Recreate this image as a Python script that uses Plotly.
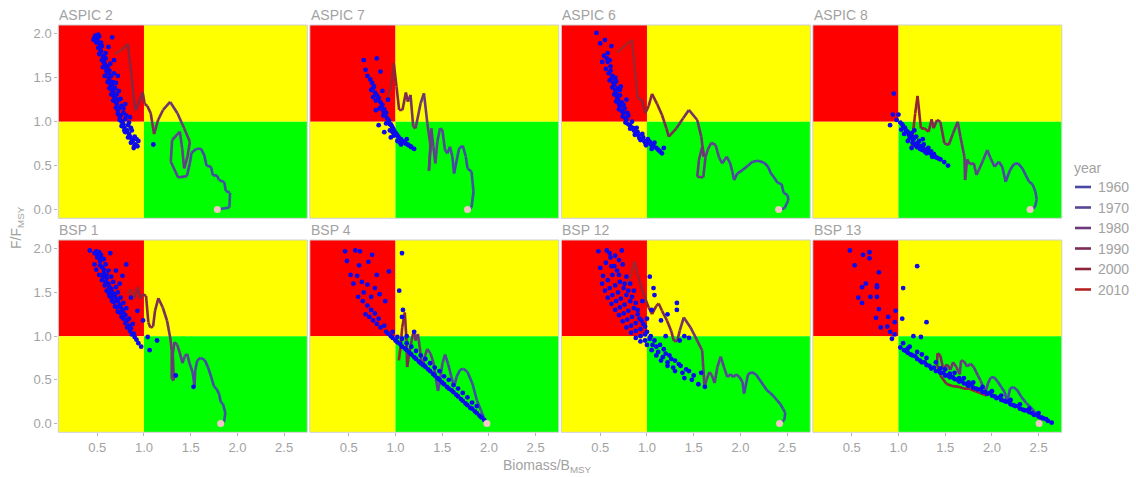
import plotly.graph_objects as go

# ---------------------------------------------------------------- data
PANELS = ["ASPIC 2", "ASPIC 7", "ASPIC 6", "ASPIC 8", "BSP 1", "BSP 4", "BSP 12", "BSP 13"]
X_TICKS = [0.5, 1.0, 1.5, 2.0, 2.5]
X_TICK_TEXT = ["0.5", "1.0", "1.5", "2.0", "2.5"]
Y_TICKS = [0.0, 0.5, 1.0, 1.5, 2.0]
Y_TICK_TEXT = ["0.0", "0.5", "1.0", "1.5", "2.0"]
LEGEND_YEARS = [1960, 1970, 1980, 1990, 2000, 2010]

# historical trajectories (B/Bmsy, F/Fmsy) with the year of each vertex
aspic2_year = [1950, 1951, 1952, 1953, 1954, 1955, 1956, 1957, 1958, 1959, 1960, 1962, 1963, 1965,
               1966, 1968, 1969, 1971, 1972, 1974, 1975, 1977, 1978, 1980, 1981, 1983, 1984, 1986,
               1987, 1989, 1990, 1992, 1993, 1995, 1996, 1998, 2000, 2003, 2007, 2011]
aspic2_path = [(1.785, 0.0), (1.914, 0.023), (1.921, 0.19), (1.875, 0.213), (1.86, 0.312), (1.803, 0.335),
               (1.781, 0.388), (1.738, 0.388), (1.717, 0.487), (1.67, 0.498), (1.645, 0.62), (1.609, 0.692),
               (1.563, 0.692), (1.509, 0.646), (1.491, 0.525), (1.459, 0.38), (1.366, 0.365), (1.287, 0.544),
               (1.301, 0.791), (1.384, 0.886), (1.409, 0.696), (1.43, 0.468), (1.466, 0.601), (1.491, 0.772),
               (1.43, 0.924), (1.358, 1.095), (1.28, 1.224), (1.204, 1.133), (1.151, 1.019), (1.108, 0.859),
               (1.072, 1.095), (1.036, 1.179), (1.007, 1.202), (0.986, 1.338), (0.943, 1.209), (0.907, 1.125),
               (0.871, 1.475), (0.828, 1.886), (0.763, 1.817), (0.685, 1.772)]

aspic7_year = [1950, 1951, 1952, 1953, 1954, 1955, 1956, 1958, 1959, 1961, 1962, 1964, 1965, 1967,
               1968, 1970, 1971, 1973, 1974, 1976, 1977, 1979, 1980, 1982, 1983, 1985, 1986, 1988,
               1990, 1992, 1994, 1996, 1999, 2002, 2006, 2011]
aspic7_path = [(1.771, 0.0), (1.814, 0.023), (1.835, 0.202), (1.814, 0.43), (1.771, 0.468), (1.753, 0.601),
               (1.72, 0.726), (1.681, 0.696), (1.656, 0.563), (1.627, 0.411), (1.609, 0.601), (1.584, 0.715),
               (1.556, 0.639), (1.53, 0.677), (1.502, 0.905), (1.477, 0.924), (1.448, 0.772), (1.427, 0.525),
               (1.405, 0.715), (1.384, 0.924), (1.358, 0.441), (1.376, 0.715), (1.341, 0.981), (1.305, 1.323),
               (1.269, 1.209), (1.215, 0.924), (1.19, 0.943), (1.161, 1.304), (1.133, 1.228), (1.111, 1.331),
               (1.075, 1.133), (1.039, 1.133), (1.011, 1.399), (0.982, 1.665), (0.953, 1.399), (0.918, 1.285)]

aspic6_year = [1950, 1951, 1952, 1953, 1954, 1955, 1956, 1957, 1958, 1959, 1960, 1961, 1962, 1963,
               1964, 1965, 1966, 1967, 1968, 1969, 1970, 1971, 1972, 1974, 1975, 1976, 1978, 1979,
               1980, 1982, 1983, 1984, 1986, 1987, 1988, 1990, 1991, 1992, 1994, 1995, 1996, 1998,
               2000, 2002, 2005, 2008, 2011]
aspic6_path = [(2.409, 0.0), (2.47, 0.011), (2.513, 0.106), (2.505, 0.163), (2.462, 0.19), (2.441, 0.289),
               (2.398, 0.304), (2.355, 0.373), (2.326, 0.411), (2.297, 0.487), (2.254, 0.532), (2.19, 0.555),
               (2.129, 0.544), (2.075, 0.494), (2.022, 0.449), (1.968, 0.411), (1.932, 0.335), (1.914, 0.43),
               (1.889, 0.532), (1.853, 0.601), (1.806, 0.525), (1.771, 0.593), (1.735, 0.734), (1.688, 0.76),
               (1.652, 0.684), (1.627, 0.601), (1.602, 0.365), (1.538, 0.373), (1.556, 0.563), (1.591, 0.715),
               (1.609, 0.601), (1.581, 0.829), (1.538, 1.019), (1.448, 1.133), (1.387, 1.038), (1.315, 0.924),
               (1.233, 0.829), (1.208, 0.924), (1.161, 1.076), (1.108, 1.202), (1.054, 1.316), (1.018, 1.179),
               (0.982, 1.095), (0.946, 1.247), (0.9, 1.266), (0.839, 1.932), (0.677, 1.787)]

aspic8_year = [1950, 1951, 1952, 1953, 1954, 1955, 1956, 1957, 1958, 1959, 1960, 1962, 1963, 1965,
               1966, 1968, 1969, 1971, 1972, 1974, 1975, 1977, 1978, 1980, 1981, 1983, 1984, 1986,
               1987, 1989, 1990, 1992, 1993, 1995, 1996, 1998, 2000, 2002, 2005, 2008, 2011]
aspic8_path = [(2.409, 0.0), (2.459, 0.023), (2.48, 0.114), (2.466, 0.202), (2.434, 0.289), (2.398, 0.316),
               (2.362, 0.392), (2.326, 0.468), (2.28, 0.525), (2.237, 0.517), (2.194, 0.449), (2.147, 0.316),
               (2.111, 0.487), (2.075, 0.544), (2.029, 0.487), (1.986, 0.582), (1.95, 0.677), (1.907, 0.563),
               (1.86, 0.449), (1.835, 0.392), (1.806, 0.525), (1.763, 0.517), (1.735, 0.57), (1.713, 0.335),
               (1.706, 0.601), (1.663, 0.829), (1.634, 1.0), (1.584, 0.867), (1.538, 0.734), (1.491, 0.753),
               (1.448, 1.0), (1.412, 1.019), (1.376, 0.924), (1.355, 1.027), (1.323, 0.886), (1.276, 0.924),
               (1.24, 0.924), (1.204, 1.293), (1.179, 1.095), (1.154, 0.867), (1.143, 0.677)]

bsp1_year = [1950, 1951, 1952, 1953, 1954, 1955, 1956, 1957, 1958, 1959, 1960, 1961, 1963, 1964,
             1966, 1967, 1969, 1970, 1972, 1973, 1975, 1976, 1978, 1979, 1981, 1982, 1984, 1985,
             1987, 1988, 1990, 1991, 1993, 1994, 1996, 1997, 1999, 2001, 2003, 2005, 2008, 2011]
bsp1_path = [(1.821, 0.0), (1.857, 0.017), (1.871, 0.123), (1.846, 0.222), (1.821, 0.248), (1.803, 0.343),
             (1.774, 0.4), (1.749, 0.426), (1.72, 0.532), (1.685, 0.646), (1.649, 0.729), (1.606, 0.752),
             (1.57, 0.722), (1.548, 0.608), (1.541, 0.43), (1.52, 0.589), (1.487, 0.691), (1.462, 0.797),
             (1.434, 0.767), (1.412, 0.691), (1.384, 0.805), (1.355, 0.903), (1.326, 0.93), (1.308, 0.797),
             (1.319, 0.494), (1.297, 0.513), (1.297, 0.835), (1.283, 0.968), (1.247, 1.176), (1.201, 1.328),
             (1.154, 1.434), (1.118, 1.29), (1.097, 1.108), (1.068, 1.1), (1.047, 1.157), (1.022, 1.46),
             (0.986, 1.479), (0.961, 1.422), (0.932, 1.563), (0.896, 1.434), (0.86, 1.536), (0.824, 1.479)]

bsp4_year = [1950, 1951, 1952, 1953, 1955, 1956, 1958, 1959, 1961, 1962, 1964, 1965, 1967, 1968,
             1970, 1971, 1973, 1974, 1976, 1977, 1979, 1980, 1982, 1983, 1985, 1987, 1989, 1991,
             1993, 1995, 1998, 2002, 2006, 2011]
bsp4_path = [(1.978, 0.0), (1.957, 0.04), (1.914, 0.153), (1.871, 0.267), (1.824, 0.456), (1.771, 0.589),
             (1.728, 0.627), (1.692, 0.616), (1.656, 0.54), (1.627, 0.419), (1.599, 0.532), (1.563, 0.684),
             (1.53, 0.79), (1.502, 0.684), (1.477, 0.494), (1.455, 0.373), (1.43, 0.532), (1.405, 0.703),
             (1.376, 0.797), (1.341, 0.854), (1.312, 0.759), (1.287, 0.646), (1.269, 0.797), (1.24, 1.025),
             (1.215, 0.949), (1.197, 1.063), (1.172, 0.949), (1.147, 0.797), (1.125, 0.646), (1.118, 0.949),
             (1.1, 1.271), (1.072, 1.1), (1.054, 0.873), (1.036, 0.722)]

bsp12_year = [1950, 1951, 1952, 1953, 1954, 1955, 1956, 1957, 1958, 1959, 1960, 1961, 1962, 1963,
              1964, 1965, 1966, 1967, 1968, 1969, 1970, 1971, 1972, 1973, 1974, 1975, 1977, 1978,
              1979, 1981, 1982, 1983, 1985, 1986, 1987, 1989, 1990, 1991, 1993, 1994, 1995, 1997,
              1999, 2001, 2003, 2005, 2007, 2009, 2011]
bsp12_path = [(2.419, 0.0), (2.47, 0.04), (2.48, 0.123), (2.455, 0.172), (2.427, 0.222), (2.391, 0.267),
              (2.355, 0.313), (2.319, 0.35), (2.283, 0.381), (2.254, 0.426), (2.211, 0.494), (2.165, 0.563),
              (2.122, 0.589), (2.082, 0.563), (2.039, 0.343), (2.022, 0.475), (1.989, 0.532), (1.953, 0.563),
              (1.925, 0.532), (1.896, 0.563), (1.86, 0.532), (1.824, 0.645), (1.789, 0.767), (1.753, 0.645),
              (1.724, 0.464), (1.695, 0.551), (1.667, 0.589), (1.638, 0.502), (1.616, 0.419), (1.602, 0.645),
              (1.591, 0.835), (1.538, 0.949), (1.466, 1.1), (1.394, 1.214), (1.351, 1.063), (1.323, 0.941),
              (1.287, 0.949), (1.258, 1.063), (1.215, 1.176), (1.161, 1.29), (1.125, 1.373), (1.1, 1.347),
              (1.054, 1.252), (1.018, 1.328), (0.964, 1.479), (0.91, 1.669), (0.864, 1.858), (0.821, 1.669),
              (0.778, 1.593)]

bsp13_year = [1950, 1951, 1952, 1953, 1954, 1955, 1956, 1957, 1958, 1959, 1960, 1961, 1962, 1964,
              1965, 1967, 1968, 1970, 1971, 1973, 1974, 1976, 1977, 1979, 1980, 1982, 1983, 1985,
              1986, 1988, 1989, 1991, 1992, 1994, 1995, 1997, 1999, 2001, 2003, 2005, 2007, 2009, 2011]
bsp13_path = [(2.505, 0.0), (2.53, 0.032), (2.48, 0.108), (2.416, 0.184), (2.366, 0.237), (2.315, 0.305),
              (2.272, 0.381), (2.229, 0.419), (2.194, 0.4), (2.165, 0.248), (2.136, 0.362), (2.1, 0.419),
              (2.065, 0.475), (2.022, 0.532), (1.986, 0.525), (1.957, 0.456), (1.935, 0.373), (1.907, 0.419),
              (1.878, 0.494), (1.849, 0.551), (1.806, 0.646), (1.771, 0.684), (1.735, 0.653), (1.699, 0.714),
              (1.67, 0.722), (1.656, 0.563), (1.62, 0.646), (1.584, 0.703), (1.556, 0.616), (1.52, 0.676),
              (1.477, 0.627), (1.448, 0.778), (1.419, 0.805), (1.412, 0.684), (1.448, 0.551), (1.513, 0.456),
              (1.573, 0.43), (1.645, 0.42), (1.699, 0.40), (1.753, 0.40), (1.824, 0.37), (1.896, 0.34),
              (1.943, 0.32)]

# current-status uncertainty (bootstrap / MCMC draws), (B/Bmsy, F/Fmsy)
aspic2_cloud = [(0.48, 1.98), (0.50, 1.95), (0.52, 1.97), (0.49, 1.90), (0.53, 1.88), (0.51, 1.84), (0.55, 1.86),
                (0.54, 1.80), (0.52, 1.77), (0.57, 1.75), (0.55, 1.70), (0.59, 1.72), (0.58, 1.66), (0.56, 1.62),
                (0.61, 1.63), (0.60, 1.57), (0.63, 1.58), (0.58, 1.52), (0.62, 1.50), (0.65, 1.52), (0.61, 1.45),
                (0.64, 1.43), (0.67, 1.45), (0.63, 1.38), (0.66, 1.36), (0.69, 1.38), (0.65, 1.31), (0.68, 1.29),
                (0.71, 1.31), (0.67, 1.24), (0.70, 1.22), (0.73, 1.25), (0.70, 1.16), (0.73, 1.15), (0.76, 1.18),
                (0.72, 1.09), (0.75, 1.07), (0.78, 1.10), (0.74, 1.02), (0.77, 1.00), (0.80, 1.03), (0.76, 0.95),
                (0.79, 0.93), (0.83, 0.96), (0.80, 0.88), (0.84, 0.86), (0.87, 0.90), (0.83, 0.82), (0.87, 0.80),
                (0.90, 0.83), (0.86, 0.76), (0.91, 0.74), (0.94, 0.78), (0.89, 0.70), (1.10, 0.74), (0.62, 1.85),
                (0.68, 1.70), (0.72, 1.52), (0.80, 1.20), (0.85, 1.05), (0.66, 1.96), (0.46, 1.93),
                (0.50, 1.92), (0.53, 1.83), (0.56, 1.74), (0.57, 1.68), (0.60, 1.60), (0.62, 1.55), (0.63, 1.47),
                (0.66, 1.41), (0.67, 1.34), (0.69, 1.27), (0.71, 1.20), (0.72, 1.13), (0.74, 1.06), (0.76, 1.00),
                (0.78, 0.97), (0.79, 0.90), (0.82, 0.90), (0.85, 0.83), (0.88, 0.78), (0.90, 0.73), (0.93, 0.72),
                (0.54, 1.90), (0.59, 1.78), (0.64, 1.66), (0.68, 1.55), (0.70, 1.44), (0.73, 1.35), (0.75, 1.26),
                (0.78, 1.15), (0.81, 1.07), (0.84, 0.99), (0.86, 0.93), (0.92, 0.80), (0.51, 1.99), (0.47, 1.96)]

aspic7_cloud = [(0.66, 1.70), (0.80, 1.72), (0.68, 1.59), (0.73, 1.48), (0.84, 1.57), (0.75, 1.44), (0.77, 1.40),
                (0.74, 1.36), (0.78, 1.33), (0.80, 1.30), (0.82, 1.27), (0.79, 1.24), (0.84, 1.22), (0.86, 1.19),
                (0.83, 1.15), (0.88, 1.14), (0.90, 1.10), (0.87, 1.07), (0.91, 1.04), (0.93, 1.01), (0.90, 0.98),
                (0.95, 0.97), (0.97, 0.93), (0.94, 0.90), (0.99, 0.89), (1.01, 0.86), (0.98, 0.84), (1.03, 0.83),
                (1.06, 0.80), (1.02, 0.78), (1.08, 0.77), (1.11, 0.75), (1.06, 0.74), (1.14, 0.73), (1.17, 0.71),
                (1.20, 0.69), (0.79, 1.13), (0.82, 0.96), (0.88, 0.88), (0.86, 1.35), (0.92, 1.25), (0.70, 1.52),
                (0.95, 0.82), (1.12, 0.80), (0.76, 1.28),
                (0.76, 1.38), (0.79, 1.31), (0.81, 1.25), (0.85, 1.17), (0.87, 1.12), (0.89, 1.08), (0.92, 1.02),
                (0.94, 0.97), (0.96, 0.95), (0.98, 0.91), (1.00, 0.87), (1.02, 0.84), (1.04, 0.81), (1.07, 0.78),
                (1.10, 0.76), (1.13, 0.74), (1.16, 0.72), (0.97, 0.88), (1.05, 0.76)]

aspic6_cloud = [(0.46, 2.01), (0.50, 1.89), (0.55, 1.93), (0.62, 1.86), (0.52, 1.68), (0.57, 1.72), (0.61, 1.63),
                (0.56, 1.60), (0.59, 1.55), (0.63, 1.52), (0.60, 1.47), (0.64, 1.44), (0.67, 1.46), (0.63, 1.39),
                (0.66, 1.36), (0.69, 1.38), (0.65, 1.31), (0.68, 1.28), (0.71, 1.30), (0.67, 1.23), (0.70, 1.20),
                (0.73, 1.22), (0.70, 1.14), (0.73, 1.12), (0.76, 1.15), (0.74, 1.06), (0.77, 1.04), (0.80, 1.07),
                (0.77, 0.99), (0.80, 0.97), (0.84, 1.00), (0.82, 0.92), (0.86, 0.90), (0.89, 0.93), (0.87, 0.85),
                (0.91, 0.84), (0.95, 0.86), (0.93, 0.79), (0.97, 0.78), (1.01, 0.80), (0.99, 0.73), (1.04, 0.74),
                (1.08, 0.76), (1.05, 0.69), (1.10, 0.70), (1.14, 0.66), (1.18, 0.70), (1.16, 0.64), (0.72, 1.40),
                (0.78, 1.25), (0.58, 1.78),
                (0.58, 1.68), (0.61, 1.58), (0.62, 1.49), (0.65, 1.42), (0.67, 1.33), (0.69, 1.25), (0.71, 1.17),
                (0.75, 1.10), (0.78, 1.02), (0.82, 0.96), (0.85, 0.93), (0.88, 0.88), (0.92, 0.81), (0.96, 0.82),
                (1.00, 0.76), (1.03, 0.77), (1.07, 0.72), (1.12, 0.68), (0.54, 1.75), (0.60, 1.70), (0.66, 1.50),
                (0.71, 1.36), (0.75, 1.19), (0.79, 1.10), (0.90, 0.88), (0.98, 0.76)]

aspic8_cloud = [(0.95, 1.32), (0.91, 0.96), (0.94, 1.08), (1.00, 1.08), (0.98, 1.02), (1.02, 0.99), (1.05, 0.95),
                (1.03, 0.91), (1.07, 0.93), (1.09, 0.89), (1.06, 0.86), (1.11, 0.85), (1.14, 0.87), (1.12, 0.81),
                (1.16, 0.80), (1.19, 0.83), (1.15, 0.76), (1.19, 0.75), (1.22, 0.78), (1.20, 0.71), (1.24, 0.72),
                (1.27, 0.74), (1.25, 0.68), (1.29, 0.68), (1.32, 0.70), (1.30, 0.64), (1.34, 0.64), (1.38, 0.63),
                (1.36, 0.60), (1.41, 0.59), (1.45, 0.57), (1.49, 0.54), (1.53, 0.50), (1.10, 0.78), (1.17, 0.90),
                (1.26, 0.80), (1.14, 0.70),
                (1.04, 0.97), (1.08, 0.90), (1.13, 0.84), (1.17, 0.82), (1.21, 0.76), (1.26, 0.71), (1.31, 0.67),
                (1.35, 0.66), (1.39, 0.60), (1.43, 0.58), (1.10, 0.88), (1.18, 0.73), (1.23, 0.69), (1.28, 0.66)]

bsp1_cloud = [(0.42, 1.98), (0.47, 1.95), (0.52, 1.96), (0.54, 1.93), (0.50, 1.90), (0.47, 1.82), (0.53, 1.86),
              (0.57, 1.88), (0.64, 1.95), (0.49, 1.76), (0.55, 1.79), (0.59, 1.82), (0.52, 1.70), (0.57, 1.72),
              (0.62, 1.75), (0.55, 1.64), (0.60, 1.66), (0.65, 1.68), (0.58, 1.58), (0.62, 1.60), (0.67, 1.62),
              (0.60, 1.52), (0.65, 1.54), (0.70, 1.56), (0.63, 1.46), (0.68, 1.48), (0.72, 1.50), (0.66, 1.40),
              (0.71, 1.42), (0.75, 1.44), (0.69, 1.34), (0.74, 1.36), (0.78, 1.38), (0.72, 1.28), (0.77, 1.30),
              (0.81, 1.32), (0.76, 1.22), (0.80, 1.24), (0.84, 1.20), (0.80, 1.15), (0.84, 1.12), (0.88, 1.14),
              (0.85, 1.06), (0.89, 1.03), (0.81, 1.82), (0.77, 1.69), (0.86, 1.44), (0.93, 1.29), (0.99, 1.18),
              (0.90, 0.99), (0.97, 0.88), (1.06, 0.84), (1.04, 0.99), (1.14, 0.95), (1.34, 0.55), (1.53, 0.42),
              (0.94, 0.92), (0.92, 0.96), (0.70, 1.75), (0.74, 1.60),
              (0.50, 1.93), (0.55, 1.89), (0.53, 1.81), (0.57, 1.76), (0.56, 1.68), (0.60, 1.70), (0.59, 1.62),
              (0.63, 1.56), (0.62, 1.50), (0.66, 1.50), (0.65, 1.44), (0.69, 1.45), (0.68, 1.39), (0.72, 1.40),
              (0.71, 1.33), (0.75, 1.33), (0.74, 1.27), (0.78, 1.26), (0.78, 1.20), (0.82, 1.18), (0.82, 1.10),
              (0.86, 1.09), (0.87, 1.02), (0.49, 1.97), (0.52, 1.92)]

bsp4_cloud = [(0.46, 1.97), (0.57, 1.98), (0.62, 1.97), (0.75, 1.93), (0.48, 1.86), (0.61, 1.81), (0.71, 1.85),
              (0.80, 1.70), (0.93, 1.74), (0.52, 1.70), (0.59, 1.69), (0.70, 1.59), (0.78, 1.55), (0.89, 1.40),
              (0.55, 1.60), (0.64, 1.62), (0.66, 1.50), (0.74, 1.45), (0.83, 1.48), (0.60, 1.45),
              (1.04, 1.52), (1.07, 1.95), (1.07, 1.22), (1.12, 1.00), (1.20, 1.05), (1.08, 1.30),
              (0.90, 1.05), (0.95, 1.00), (1.00, 0.95), (1.05, 0.91), (1.10, 0.86), (1.15, 0.81), (1.20, 0.76),
              (1.25, 0.71), (1.30, 0.67), (1.35, 0.62), (1.40, 0.57), (1.45, 0.52), (1.50, 0.47), (1.55, 0.42),
              (1.60, 0.38), (1.65, 0.33), (1.70, 0.28), (1.75, 0.23), (1.80, 0.18), (1.85, 0.14), (1.90, 0.09),
              (1.95, 0.04), (0.92, 1.03), (0.97, 0.98), (1.02, 0.93), (1.07, 0.88), (1.12, 0.84), (1.17, 0.79),
              (1.22, 0.74), (1.27, 0.69), (1.32, 0.65), (1.37, 0.60), (1.42, 0.55), (1.47, 0.50), (1.52, 0.45),
              (1.57, 0.40), (1.62, 0.36), (1.67, 0.31), (1.72, 0.26), (1.77, 0.21), (1.82, 0.17), (1.87, 0.12),
              (1.92, 0.07), (1.02, 0.99), (1.12, 0.92), (1.22, 0.83), (1.32, 0.74), (1.42, 0.64), (1.52, 0.54),
              (1.62, 0.44), (1.72, 0.35), (1.82, 0.24), (0.97, 1.05), (1.07, 0.97), (1.17, 0.88), (1.27, 0.78),
              (1.37, 0.69), (1.47, 0.60), (1.57, 0.50), (1.67, 0.40), (1.77, 0.30), (1.87, 0.20), (0.68, 1.25),
              (0.72, 1.22), (0.76, 1.18), (0.80, 1.14), (0.84, 1.10), (0.74, 1.30), (0.82, 1.20), (0.70, 1.35),
              (0.65, 1.40), (0.78, 1.26), (0.88, 1.12)]

bsp12_cloud = [(0.48, 1.97), (0.57, 1.98), (0.73, 1.98), (0.61, 1.90), (0.50, 1.78), (0.53, 1.69), (0.56, 1.84),
               (0.65, 1.80), (0.70, 1.87), (0.52, 1.60), (0.58, 1.64), (0.63, 1.70), (0.68, 1.75), (0.74, 1.82),
               (0.55, 1.52), (0.60, 1.55), (0.66, 1.58), (0.71, 1.62), (0.78, 1.68), (0.58, 1.44), (0.63, 1.47),
               (0.69, 1.50), (0.75, 1.55), (0.82, 1.60), (0.62, 1.37), (0.67, 1.40), (0.72, 1.43), (0.78, 1.47),
               (0.86, 1.52), (0.66, 1.30), (0.71, 1.33), (0.76, 1.36), (0.82, 1.40), (0.70, 1.24), (0.75, 1.26),
               (0.80, 1.29), (0.86, 1.32), (0.74, 1.17), (0.79, 1.19), (0.84, 1.22), (0.90, 1.25), (0.78, 1.10),
               (0.83, 1.12), (0.88, 1.15), (0.94, 1.18), (0.83, 1.04), (0.88, 1.06), (0.93, 1.08), (0.98, 1.11),
               (0.88, 0.98), (0.93, 1.00), (0.98, 1.02), (0.93, 0.94), (0.98, 0.95), (1.03, 0.97), (1.00, 0.90),
               (1.06, 0.90), (1.10, 0.88), (1.05, 0.84), (1.12, 0.82), (1.18, 0.85), (1.10, 0.78), (1.17, 0.76),
               (1.24, 0.78), (1.15, 0.72), (1.22, 0.70), (1.30, 0.72), (1.22, 0.66), (1.28, 0.64), (1.36, 0.66),
               (1.30, 0.60), (1.38, 0.58), (1.45, 0.60), (1.40, 0.52), (1.48, 0.50), (1.55, 0.45), (1.62, 0.42),
               (1.03, 1.68), (1.07, 1.55), (1.08, 1.47), (1.05, 1.30), (1.32, 1.38), (1.32, 1.30), (1.22, 1.25),
               (1.15, 1.18), (1.40, 1.00), (1.35, 0.95), (1.45, 0.98), (1.20, 1.00), (1.58, 0.58), (0.95, 1.40),
               (1.00, 1.20),
               (0.60, 1.95), (0.66, 1.92), (0.62, 1.80), (0.70, 1.70), (0.76, 1.60), (0.80, 1.52), (0.84, 1.45),
               (0.88, 1.38), (0.90, 1.30), (0.92, 1.20), (0.96, 1.14), (1.00, 1.05), (1.04, 1.00), (1.08, 0.95),
               (1.14, 0.90), (1.20, 0.80), (1.26, 0.74), (1.34, 0.68), (1.42, 0.62), (1.50, 0.55)]

bsp13_cloud = [(0.48, 1.98), (0.62, 1.93), (0.69, 1.96), (0.53, 1.81), (0.69, 1.89), (0.79, 1.73), (0.65, 1.60),
               (0.61, 1.56), (0.77, 1.58), (0.77, 1.56), (0.57, 1.44), (0.61, 1.38), (0.70, 1.45), (0.77, 1.45),
               (0.79, 1.31), (0.76, 1.21), (0.89, 1.22), (0.81, 1.10), (0.88, 1.11), (0.97, 1.29), (0.96, 1.16),
               (0.91, 1.05), (0.96, 1.02), (0.93, 0.97), (1.20, 1.80), (1.05, 1.55), (1.04, 1.20), (1.30, 1.16),
               (1.16, 1.00), (1.24, 0.99), (1.02, 0.87), (1.06, 0.84), (1.10, 0.81), (1.15, 0.78), (1.20, 0.74),
               (1.25, 0.70), (1.30, 0.67), (1.35, 0.63), (1.40, 0.60), (1.45, 0.58), (1.50, 0.55), (1.55, 0.53),
               (1.60, 0.51), (1.65, 0.48), (1.70, 0.46), (1.75, 0.43), (1.80, 0.41), (1.85, 0.39), (1.90, 0.36),
               (1.95, 0.34), (2.00, 0.32), (2.05, 0.29), (2.10, 0.27), (2.15, 0.25), (2.20, 0.22), (2.25, 0.20),
               (2.30, 0.17), (2.35, 0.15), (2.40, 0.13), (2.45, 0.10), (2.50, 0.08), (2.55, 0.06), (2.60, 0.03),
               (2.64, 0.01), (1.05, 0.92), (1.12, 0.88), (1.20, 0.82), (1.30, 0.75), (1.40, 0.70), (1.50, 0.62),
               (1.60, 0.58), (1.70, 0.52), (1.80, 0.47), (1.90, 0.42), (2.00, 0.37), (2.10, 0.32), (2.20, 0.27),
               (2.30, 0.22), (2.40, 0.17), (2.50, 0.12), (1.10, 0.86), (1.25, 0.79), (1.08, 0.83), (1.18, 0.77),
               (1.28, 0.70), (1.38, 0.64), (1.48, 0.58), (1.58, 0.53), (1.68, 0.49), (1.78, 0.44), (1.88, 0.39),
               (1.98, 0.35), (2.08, 0.30), (2.18, 0.25), (2.28, 0.20), (2.38, 0.15), (2.48, 0.10), (2.58, 0.05),
               (1.13, 0.79), (1.23, 0.72), (1.33, 0.66), (1.43, 0.60), (1.53, 0.55), (1.63, 0.50), (1.73, 0.45),
               (1.83, 0.40), (1.93, 0.36), (2.03, 0.31), (2.13, 0.26), (2.23, 0.21), (2.33, 0.16), (2.43, 0.12),
               (2.53, 0.07), (1.45, 0.63), (1.55, 0.57), (1.65, 0.52), (1.75, 0.47)]

TRAJ_YEARS = [aspic2_year, aspic7_year, aspic6_year, aspic8_year, bsp1_year, bsp4_year, bsp12_year, bsp13_year]
TRAJ_PATHS = [aspic2_path, aspic7_path, aspic6_path, aspic8_path, bsp1_path, bsp4_path, bsp12_path, bsp13_path]
CLOUDS = [aspic2_cloud, aspic7_cloud, aspic6_cloud, aspic8_cloud, bsp1_cloud, bsp4_cloud, bsp12_cloud, bsp13_cloud]

# ---------------------------------------------------------------- styling
W, H = 1136, 477
X_RANGE = [0.083, 2.748]
Y_RANGE = [-0.1, 2.1]
COL_LEFT = [58.3, 309.8, 561.3, 812.8]
COL_W = 249.0
ROWS = [(25.0, 218.3), (240.0, 432.3)]
TEXT_GREY = "#a2a2a2"
FONT = "Liberation Sans, Arial, sans-serif"

COLOUR_STOPS = [(1950, (62, 86, 160)), (1960, (72, 72, 168)), (1970, (90, 70, 150)),
                (1980, (108, 58, 124)), (1990, (124, 44, 86)), (2000, (142, 36, 58)),
                (2010, (180, 34, 34)), (2012, (188, 32, 32))]


def year_colour(yr):
    for (y0, c0), (y1, c1) in zip(COLOUR_STOPS[:-1], COLOUR_STOPS[1:]):
        if y0 <= yr <= y1:
            t = (yr - y0) / (y1 - y0)
            r, g, b = (round(a + (bb - a) * t) for a, bb in zip(c0, c1))
            return f"rgb({r},{g},{b})"
    return "rgb(%d,%d,%d)" % COLOUR_STOPS[-1][1]


def px_x(px):
    return px / W


def px_y(py):
    return 1 - py / H


fig = go.Figure()
shapes = []
annotations = []
layout_axes = {}

for i, name in enumerate(PANELS):
    row, col = divmod(i, 4)
    n = i + 1
    xa = "x" if n == 1 else f"x{n}"
    ya = "y" if n == 1 else f"y{n}"
    xkey = "xaxis" if n == 1 else f"xaxis{n}"
    ykey = "yaxis" if n == 1 else f"yaxis{n}"
    top, bottom = ROWS[row]
    left = COL_LEFT[col]

    layout_axes[xkey] = dict(
        domain=[px_x(left), px_x(left + COL_W)], range=X_RANGE, anchor=ya,
        showgrid=False, zeroline=False, showline=False,
        tickvals=X_TICKS, ticktext=X_TICK_TEXT,
        showticklabels=(row == 1), ticks="outside" if row == 1 else "",
        ticklen=3, tickcolor="#b5b5b5", tickfont=dict(size=13, color=TEXT_GREY, family=FONT),
    )
    layout_axes[ykey] = dict(
        domain=[px_y(bottom), px_y(top)], range=Y_RANGE, anchor=xa,
        showgrid=False, zeroline=False, showline=False,
        tickvals=Y_TICKS, ticktext=Y_TICK_TEXT,
        showticklabels=(col == 0), ticks="outside" if col == 0 else "",
        ticklen=3, tickcolor="#b5b5b5", tickfont=dict(size=13, color=TEXT_GREY, family=FONT),
    )

    # Kobe quadrants
    quads = [
        (X_RANGE[0], 1.0, 1.0, Y_RANGE[1], "#ff0000"),
        (1.0, X_RANGE[1], 1.0, Y_RANGE[1], "#ffff00"),
        (X_RANGE[0], 1.0, Y_RANGE[0], 1.0, "#ffff00"),
        (1.0, X_RANGE[1], Y_RANGE[0], 1.0, "#00ff00"),
    ]
    for x0, x1, y0, y1, c in quads:
        shapes.append(dict(type="rect", xref=xa, yref=ya, x0=x0, x1=x1, y0=y0, y1=y1,
                           fillcolor=c, line=dict(width=0), layer="below"))
    shapes.append(dict(type="rect", xref=f"{xa} domain", yref=f"{ya} domain", x0=0, x1=1, y0=0, y1=1,
                       line=dict(color="#cfcfcf", width=1), fillcolor="rgba(0,0,0,0)", layer="above"))

    # strip label
    annotations.append(dict(text=name, xref="paper", yref="paper", x=px_x(left - 1),
                            y=px_y(top - 9.5), xanchor="left", yanchor="middle", showarrow=False,
                            font=dict(size=14, color=TEXT_GREY, family=FONT)))

    # trajectory, one segment per interval coloured by year
    years = TRAJ_YEARS[i]
    path = TRAJ_PATHS[i]
    for k in range(len(path) - 1):
        fig.add_trace(go.Scatter(x=[path[k][0], path[k + 1][0]], y=[path[k][1], path[k + 1][1]],
                                 mode="lines", line=dict(color=year_colour(years[k]), width=2.6),
                                 xaxis=xa, yaxis=ya, showlegend=False, hoverinfo="skip"))

    # uncertainty cloud on top of the trajectory
    cloud = CLOUDS[i]
    fig.add_trace(go.Scatter(x=[p[0] for p in cloud], y=[p[1] for p in cloud], mode="markers",
                             marker=dict(size=4.8, color="#0b0bec", line=dict(width=0)),
                             xaxis=xa, yaxis=ya, showlegend=False, hoverinfo="skip"))

    # first year marker
    fig.add_trace(go.Scatter(x=[path[0][0]], y=[path[0][1]], mode="markers",
                             marker=dict(size=7, color="#f4c6c6", line=dict(width=0)),
                             xaxis=xa, yaxis=ya, showlegend=False, hoverinfo="skip"))

# axis titles
annotations.append(dict(text="Biomass/B<sub>MSY</sub>", xref="paper", yref="paper", x=px_x(547),
                        y=px_y(466), xanchor="center", yanchor="middle", showarrow=False,
                        font=dict(size=14, color=TEXT_GREY, family=FONT)))
annotations.append(dict(text="F/F<sub>MSY</sub>", xref="paper", yref="paper", x=px_x(17),
                        y=px_y(228), xanchor="center", yanchor="middle", showarrow=False, textangle=-90,
                        font=dict(size=14, color=TEXT_GREY, family=FONT)))

# colour legend
annotations.append(dict(text="year", xref="paper", yref="paper", x=px_x(1072), y=px_y(168),
                        xanchor="left", yanchor="middle", showarrow=False,
                        font=dict(size=14, color=TEXT_GREY, family=FONT)))
for j, yr in enumerate(LEGEND_YEARS):
    yy = 187 + j * 20.5
    shapes.append(dict(type="line", xref="paper", yref="paper", x0=px_x(1075), x1=px_x(1091),
                       y0=px_y(yy), y1=px_y(yy), line=dict(color=year_colour(yr), width=2.6)))
    annotations.append(dict(text=str(yr), xref="paper", yref="paper", x=px_x(1096), y=px_y(yy),
                            xanchor="left", yanchor="middle", showarrow=False,
                            font=dict(size=14, color=TEXT_GREY, family=FONT)))

fig.update_layout(
    width=W, height=H, margin=dict(l=0, r=0, t=0, b=0),
    paper_bgcolor="white", plot_bgcolor="white",
    shapes=shapes, annotations=annotations, showlegend=False,
    **layout_axes,
)

fig.write_html("out.html")
